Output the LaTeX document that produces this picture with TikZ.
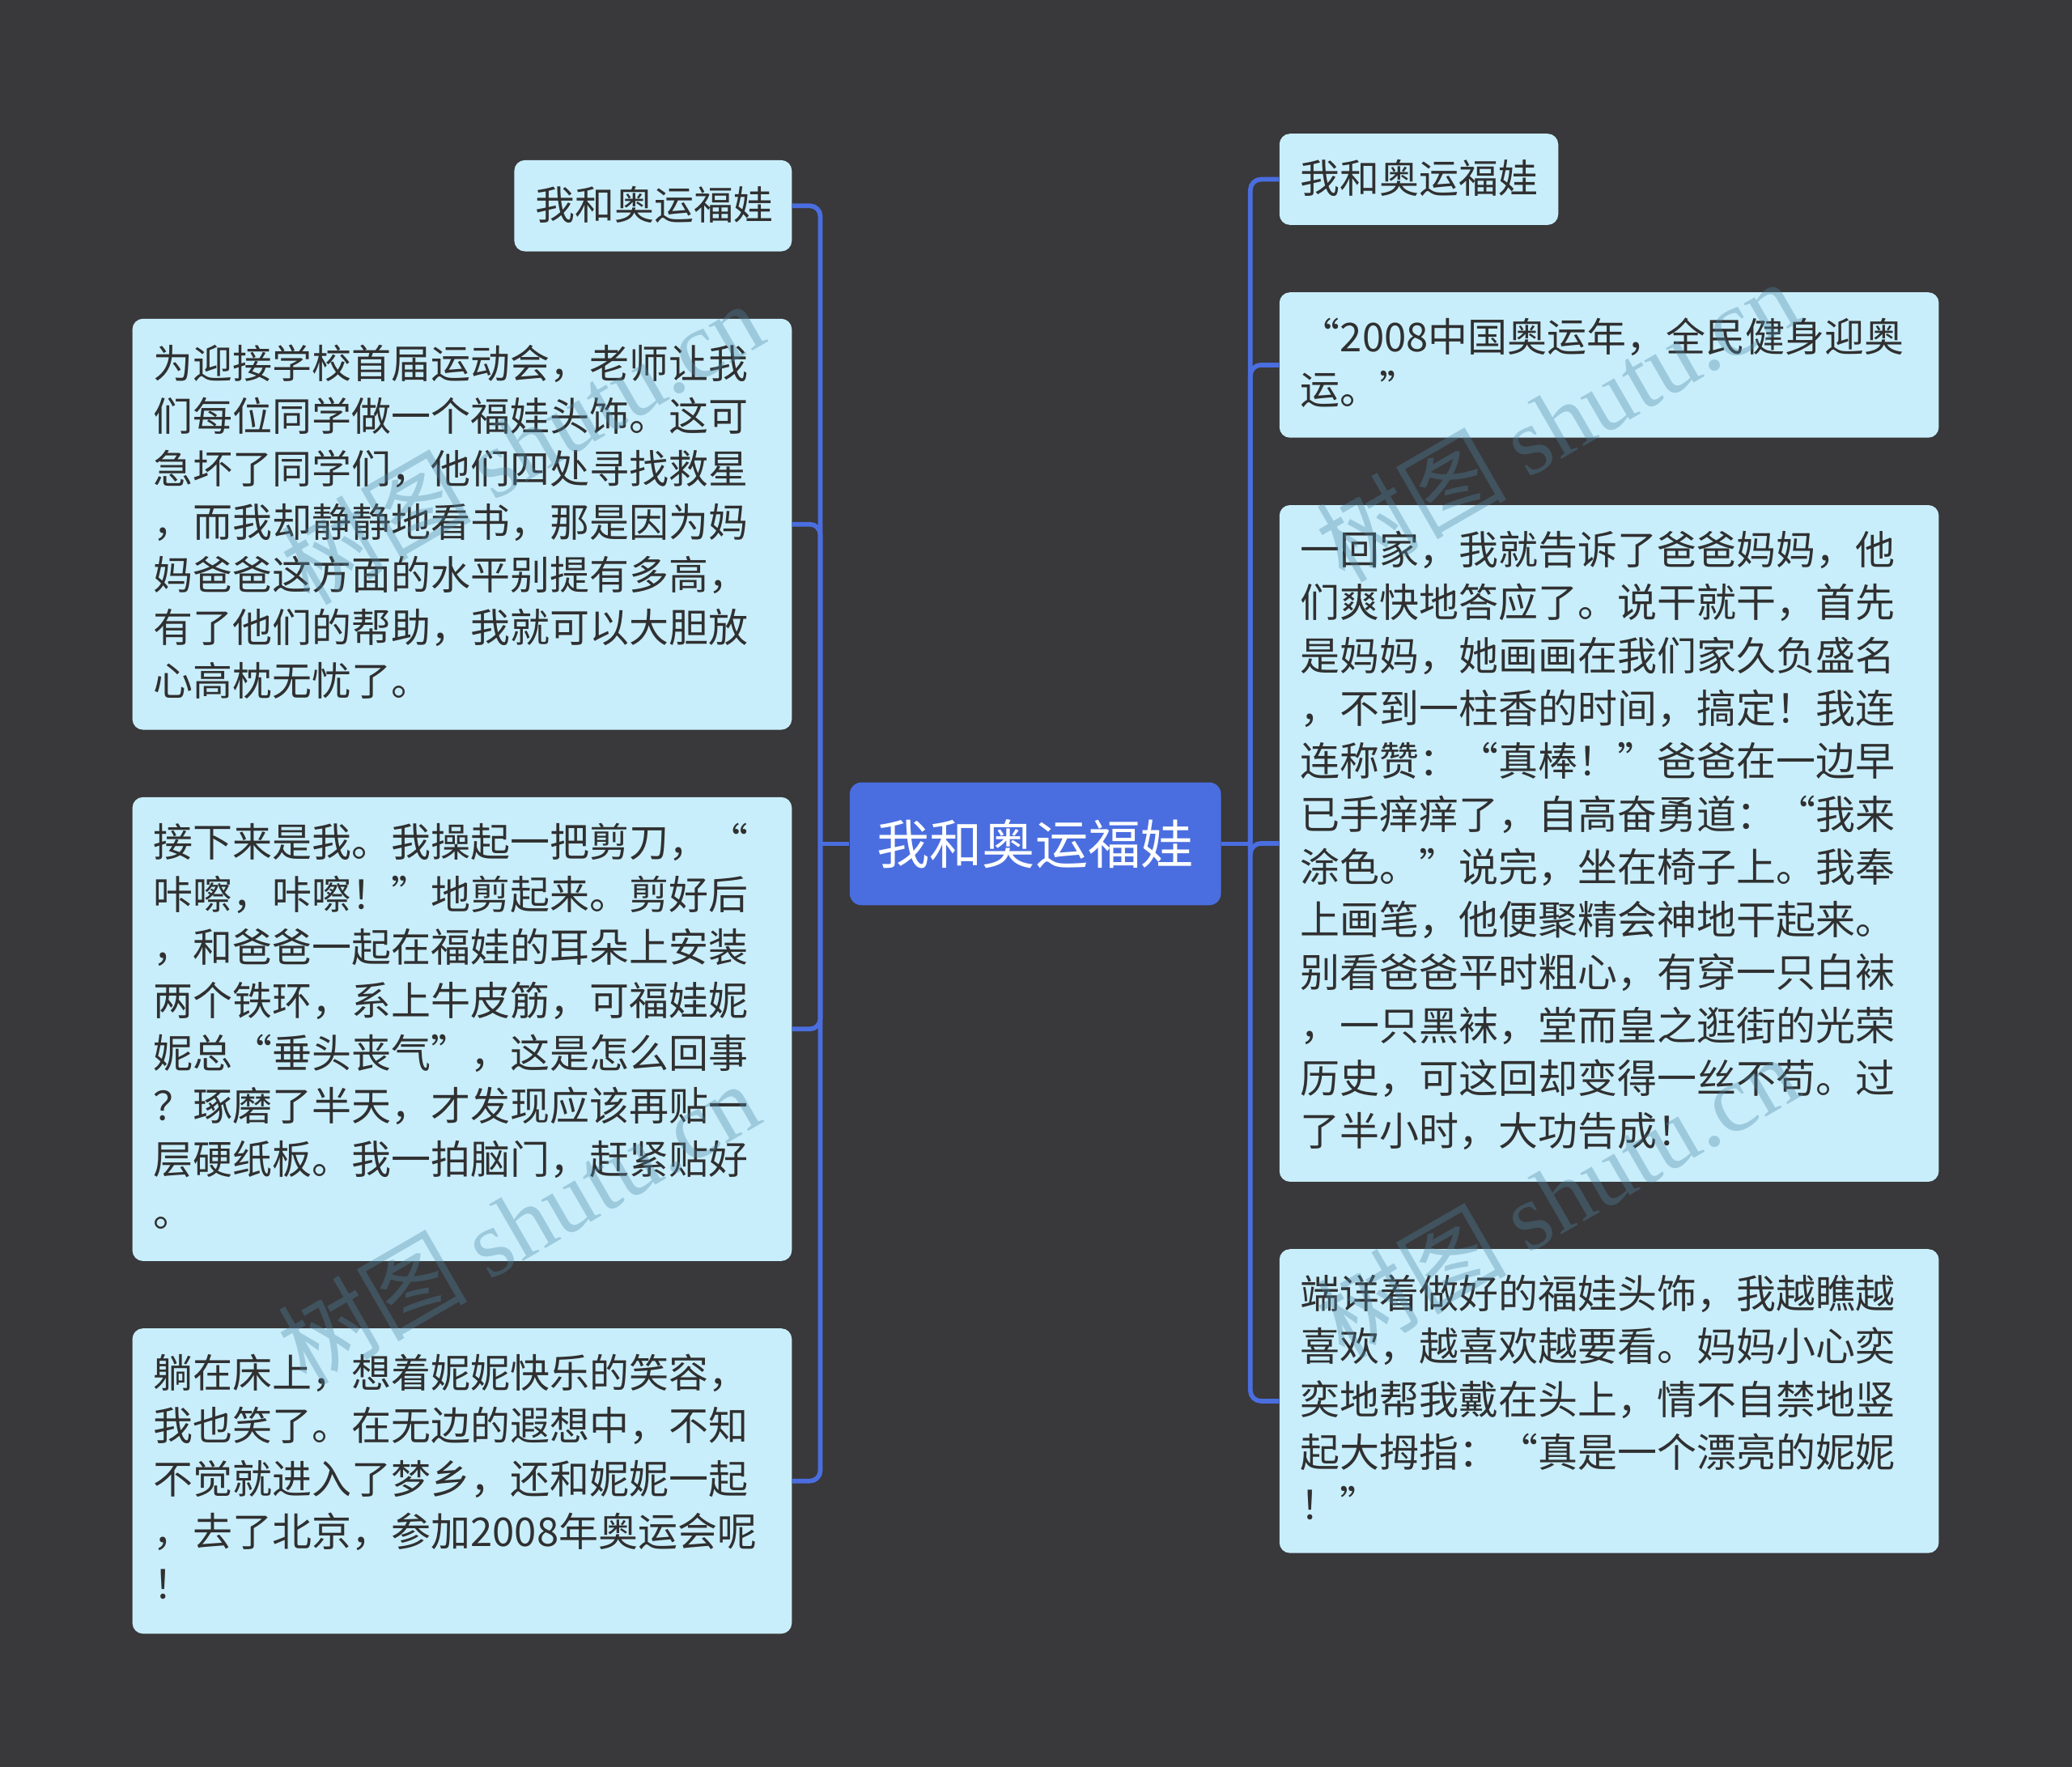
\documentclass[tikz,border=0pt]{standalone}
\usepackage{fontspec}
\setmainfont{Noto Sans CJK SC}
\newfontfamily\cjkwm{Noto Sans CJK SC}
\newfontfamily\wmserif{Liberation Serif}
\usetikzlibrary{calc}
\definecolor{bgc}{HTML}{39383A}
\definecolor{boxc}{HTML}{C8EEFC}
\definecolor{txtc}{HTML}{303030}
\definecolor{mainc}{HTML}{4A6EE0}
\definecolor{wmc}{HTML}{4E86A3}
\newcommand\myoq{\makebox[1em][r]{“}}
\newcommand\mycq{\makebox[1em][l]{”}}
\newcommand\firstln{\rule{0pt}{30pt}}
\tikzset{
  topicbox/.style={draw=none, fill=boxc, rounded corners=8pt, inner sep=0pt, anchor=north west},
  topictext/.style={anchor=north west, inner sep=0pt, align=left, text=txtc, font=\fontsize{30}{40}\selectfont},
  centerbox/.style={draw=none, fill=mainc, rounded corners=9pt, inner sep=0pt, minimum width=281pt, minimum height=93pt, text=white, font=\fontsize{40}{48}\selectfont},
  conn/.style={draw=mainc, line width=3.5pt},
  wmark/.style={text=wmc, text opacity=0.35, font=\fontsize{72}{80}\selectfont, rotate=30, inner sep=0pt}
}
\begin{document}
\begin{tikzpicture}[x=1pt, y=-1pt]
\fill[bgc] (0,0) rectangle (1568,1337);
\useasboundingbox (0,0) rectangle (1568,1337);

% center
\node[centerbox] (C) at (783.5,638.5) {我和奥运福娃};
\coordinate (jl) at ($(C.west)+(-22,0)$);
\coordinate (jr) at ($(C.east)+(22,0)$);

% left boxes
\node[topicbox, minimum width=210pt, minimum height=69pt] (L1) at (389,121) {};
\node[topictext] (L1t) at ($(L1.north west)+(16,15)$) {\firstln 我和奥运福娃};

\node[topicbox, minimum width=499pt, minimum height=311pt] (L2) at (100,241) {};
\node[topictext] (L2t) at ($(L2.north west)+(16,15)$) {\firstln 为迎接学校首届运动会，老师让我\\们每位同学做一个福娃头饰。这可\\急坏了同学们，他们四处寻找救星\\，而我却静静地看书，那是因为妈\\妈爸爸这方面的水平别提有多高，\\有了他们的帮助，我就可以大胆放\\心高枕无忧了。};

\node[topicbox, minimum width=499pt, minimum height=351pt] (L3) at (100,603) {};
\node[topictext] (L3t) at ($(L3.north west)+(16,15)$) {\firstln 接下来是我。我操起一把剪刀，\myoq\\咔嚓，咔嚓！\mycq 地剪起来。剪好后\\，和爸爸一起在福娃的耳朵上安装\\两个铁环，系上牛皮筋，可福娃妮\\妮总\myoq 垂头丧气\mycq ，这是怎么回事\\？琢磨了半天，才发现应该再贴一\\层硬纸板。我一拍脑门，赶紧贴好\\。};

\node[topicbox, minimum width=499pt, minimum height=231pt] (L4) at (100,1005) {};
\node[topictext] (L4t) at ($(L4.north west)+(16,15)$) {\firstln 躺在床上，想着妮妮快乐的笑容，\\我也笑了。在无边的遐想中，不知\\不觉就进入了梦乡，还和妮妮一起\\，去了北京，参加2008年奥运会呢\\！};

% right boxes
\node[topicbox, minimum width=211pt, minimum height=69pt] (R1) at (968,101) {};
\node[topictext] (R1t) at ($(R1.north west)+(16,15)$) {\firstln 我和奥运福娃};

\node[topicbox, minimum width=499pt, minimum height=110pt] (R2) at (968,221) {};
\node[topictext] (R2t) at ($(R2.north west)+(16,15)$) {\firstln\myoq 2008中国奥运年，全民健身迎奥\\运。\mycq};

\node[topicbox, minimum width=499pt, minimum height=512pt] (R3) at (968,382) {};
\node[topictext] (R3t) at ($(R3.north west)+(16,15)$) {\firstln 一回家，我就告诉了爸爸妈妈，他\\们爽快地答应了。说干就干，首先\\是妈妈，她画画在我们家久负盛名\\，不到一柱香的时间，搞定！我连\\连称赞：\myoq 真棒！\mycq 爸爸在一边早\\已手痒痒了，自高奋勇道：\myoq 我来\\涂色。\mycq 说完，坐在椅子上。我奉\\上画笔，他便聚精会神地干起来。\\别看爸爸平时粗心，有穿一只白袜\\，一只黑袜，堂而皇之逛街的光荣\\历史，可这回却变得一丝不苟。过\\了半小时，大功告成！};

\node[topicbox, minimum width=499pt, minimum height=230pt] (R4) at (968,945) {};
\node[topictext] (R4t) at ($(R4.north west)+(16,15)$) {\firstln 端详着做好的福娃头饰，我越瞧越\\喜欢，越喜欢越要看。妈妈小心奕\\奕地帮我戴在头上，情不自禁地竖\\起大拇指：\myoq 真是一个漂亮的妮妮\\！\mycq};

% connectors
\draw[conn] (C.west) -- (jl);
\draw[conn] (C.east) -- (jr);
\foreach \n in {L1,L2,L3,L4}{
  \draw[conn, rounded corners=8pt] (jl) |- (\n.east);
}
\foreach \n in {R1,R2,R3,R4}{
  \draw[conn, rounded corners=8pt] (jr) |- (\n.west);
}

% watermarks
\node[wmark] (wm1) at (395,335) {{\cjkwm 树图} {\wmserif shutu.cn}};
\node[wmark] (wm2) at (392,925) {{\cjkwm 树图} {\wmserif shutu.cn}};
\node[wmark] (wm3) at (1178,318) {{\cjkwm 树图} {\wmserif shutu.cn}};
\node[wmark] (wm4) at (1178,905) {{\cjkwm 树图} {\wmserif shutu.cn}};
\end{tikzpicture}
\end{document}
